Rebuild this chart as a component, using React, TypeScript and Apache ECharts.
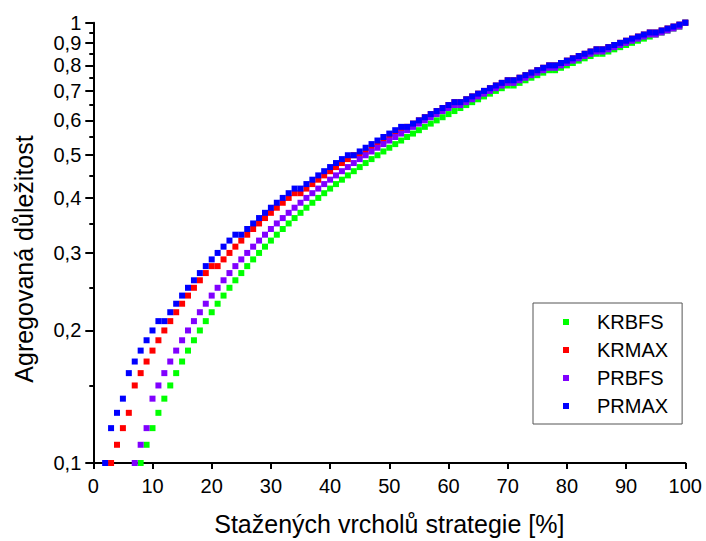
import React, { useEffect, useRef } from "react";
import * as echarts from "echarts";

// Staženo vrcholů [%]
const xPercent = [
  1, 2, 3, 4, 5, 6, 7, 8, 9, 10,
  11, 12, 13, 14, 15, 16, 17, 18, 19, 20,
  21, 22, 23, 24, 25, 26, 27, 28, 29, 30,
  31, 32, 33, 34, 35, 36, 37, 38, 39, 40,
  41, 42, 43, 44, 45, 46, 47, 48, 49, 50,
  51, 52, 53, 54, 55, 56, 57, 58, 59, 60,
  61, 62, 63, 64, 65, 66, 67, 68, 69, 70,
  71, 72, 73, 74, 75, 76, 77, 78, 79, 80,
  81, 82, 83, 84, 85, 86, 87, 88, 89, 90,
  91, 92, 93, 94, 95, 96, 97, 98, 99, 100,
];

const krbfs = [
  null, null, null, null, null, null, null, 0.10, 0.11, 0.12,
  0.13, 0.14, 0.15, 0.16, 0.17, 0.18, 0.19, 0.20, 0.21, 0.22,
  0.23, 0.24, 0.25, 0.26, 0.27, 0.28, 0.29, 0.30, 0.31, 0.32,
  0.33, 0.34, 0.35, 0.36, 0.37, 0.38, 0.39, 0.40, 0.41, 0.42,
  0.43, 0.44, 0.45, 0.46, 0.47, 0.48, 0.49, 0.50, 0.51, 0.52,
  0.53, 0.54, 0.55, 0.56, 0.57, 0.58, 0.59, 0.60, 0.61, 0.62,
  0.63, 0.64, 0.65, 0.66, 0.67, 0.68, 0.69, 0.70, 0.71, 0.72,
  0.72, 0.73, 0.74, 0.75, 0.76, 0.77, 0.78, 0.78, 0.79, 0.80,
  0.81, 0.82, 0.83, 0.84, 0.85, 0.85, 0.86, 0.87, 0.88, 0.89,
  0.90, 0.91, 0.92, 0.93, 0.94, 0.95, 0.96, 0.97, 0.98, 1.00,
];

const krmax = [
  null, null, 0.10, 0.11, 0.12, 0.13, 0.15, 0.16, 0.17, 0.18,
  0.19, 0.20, 0.21, 0.22, 0.23, 0.24, 0.25, 0.26, 0.27, 0.28,
  0.28, 0.29, 0.30, 0.31, 0.32, 0.33, 0.34, 0.35, 0.36, 0.37,
  0.38, 0.39, 0.40, 0.41, 0.41, 0.42, 0.43, 0.44, 0.45, 0.46,
  0.47, 0.48, 0.49, 0.50, 0.50, 0.51, 0.52, 0.53, 0.54, 0.55,
  0.56, 0.57, 0.58, 0.59, 0.60, 0.61, 0.62, 0.63, 0.64, 0.65,
  0.66, 0.66, 0.67, 0.68, 0.69, 0.70, 0.71, 0.72, 0.73, 0.74,
  0.74, 0.75, 0.76, 0.77, 0.78, 0.79, 0.80, 0.80, 0.81, 0.82,
  0.83, 0.84, 0.85, 0.86, 0.87, 0.87, 0.88, 0.89, 0.90, 0.91,
  0.92, 0.93, 0.94, 0.95, 0.95, 0.96, 0.97, 0.98, 0.99, 1.00,
];

const prbfs = [
  null, null, null, null, null, null, 0.10, 0.11, 0.12, 0.14,
  0.15, 0.16, 0.17, 0.18, 0.19, 0.20, 0.21, 0.22, 0.23, 0.24,
  0.25, 0.26, 0.27, 0.28, 0.29, 0.30, 0.31, 0.32, 0.33, 0.34,
  0.35, 0.36, 0.37, 0.38, 0.39, 0.40, 0.41, 0.42, 0.43, 0.44,
  0.45, 0.46, 0.47, 0.48, 0.49, 0.50, 0.51, 0.52, 0.53, 0.54,
  0.55, 0.56, 0.57, 0.58, 0.59, 0.60, 0.61, 0.62, 0.63, 0.64,
  0.65, 0.65, 0.66, 0.67, 0.68, 0.69, 0.70, 0.71, 0.72, 0.73,
  0.73, 0.74, 0.75, 0.76, 0.77, 0.78, 0.79, 0.79, 0.80, 0.81,
  0.82, 0.83, 0.84, 0.85, 0.86, 0.86, 0.87, 0.88, 0.89, 0.90,
  0.91, 0.92, 0.93, 0.94, 0.94, 0.95, 0.96, 0.97, 0.98, 1.00,
];

const prmax = [
  null, 0.10, 0.12, 0.13, 0.14, 0.16, 0.17, 0.18, 0.19, 0.20,
  0.21, 0.21, 0.22, 0.23, 0.24, 0.25, 0.26, 0.27, 0.28, 0.29,
  0.30, 0.31, 0.32, 0.33, 0.33, 0.34, 0.35, 0.36, 0.37, 0.38,
  0.39, 0.40, 0.41, 0.42, 0.42, 0.43, 0.44, 0.45, 0.46, 0.47,
  0.48, 0.49, 0.50, 0.50, 0.51, 0.52, 0.53, 0.54, 0.55, 0.56,
  0.57, 0.58, 0.58, 0.59, 0.60, 0.61, 0.62, 0.63, 0.64, 0.65,
  0.66, 0.66, 0.67, 0.68, 0.69, 0.70, 0.71, 0.72, 0.73, 0.74,
  0.74, 0.75, 0.76, 0.77, 0.78, 0.79, 0.80, 0.80, 0.81, 0.82,
  0.83, 0.84, 0.85, 0.86, 0.87, 0.87, 0.88, 0.89, 0.90, 0.91,
  0.92, 0.93, 0.94, 0.95, 0.95, 0.96, 0.97, 0.98, 0.99, 1.00,
];

const seriesNames = ["KRBFS", "KRMAX", "PRBFS", "PRMAX"];
const seriesValues = [krbfs, krmax, prbfs, prmax];
const seriesColors = ["#00ff00", "#ff0000", "#8000ff", "#0000ff"];

const yMajorTicks = [0.1, 0.2, 0.3, 0.4, 0.5, 0.6, 0.7, 0.8, 0.9, 1];
const yMinorTicks = [0.15, 0.25, 0.35, 0.45, 0.55, 0.65, 0.75, 0.85, 0.95];

const xTitle = "Stažených vrcholů strategie [%]";
const yTitle = "Agregovaná důležitost";

const FONT = '"Liberation Sans", Arial, Helvetica, sans-serif';

const toPoints = (ys: (number | null)[]) =>
  xPercent
    .map((x, i) => (ys[i] == null ? null : [x, Math.log10(ys[i] as number)]))
    .filter((p) => p !== null);

const fmtY = (v: number) => {
  const val = Math.pow(10, v);
  if (Math.abs(val - 1) < 1e-6) return "1";
  return val.toFixed(1).replace(".", ",");
};

export default function App() {
  const ref = useRef<HTMLDivElement>(null);

  useEffect(() => {
    if (!ref.current) return;
    const chart = echarts.init(ref.current, undefined, { renderer: "svg" });
    const lineStyle = { color: "#000", width: 2 };
    const option: any = {
      animation: false,
      backgroundColor: "#ffffff",
      grid: { left: 93.3, right: 20.7, top: 22.7, bottom: 77.7, containLabel: false },
      xAxis: {
        type: "value",
        min: 0,
        max: 100,
        interval: 10,
        name: xTitle,
        nameLocation: "middle",
        nameGap: 48,
        nameTextStyle: { fontFamily: FONT, fontSize: 25, color: "#000" },
        axisLine: { show: true, onZero: false, lineStyle },
        axisTick: { show: true, length: 6, lineStyle },
        axisLabel: { fontFamily: FONT, fontSize: 20, color: "#000", margin: 13 },
        splitLine: { show: false },
      },
      yAxis: [
        {
          type: "value",
          min: -1,
          max: 0,
          position: "left",
          axisLine: { show: true, onZero: false, lineStyle },
          axisTick: {
            show: true,
            length: 8,
            customValues: yMajorTicks.map((v) => Math.log10(v)),
            lineStyle,
          },
          axisLabel: {
            customValues: yMajorTicks.map((v) => Math.log10(v)),
            formatter: fmtY,
            fontFamily: FONT,
            fontSize: 20,
            lineHeight: 16,
            color: "#000",
            margin: 12,
            showMinLabel: true,
            showMaxLabel: true,
            hideOverlap: false,
          },
          splitLine: { show: false },
        },
        {
          type: "value",
          min: -1,
          max: 0,
          position: "left",
          offset: 0,
          axisLine: { show: false, onZero: false },
          axisTick: {
            show: true,
            length: 4,
            customValues: yMinorTicks.map((v) => Math.log10(v)),
            lineStyle,
          },
          axisLabel: { show: false },
          splitLine: { show: false },
        },
      ],
      legend: {
        orient: "vertical",
        left: 533,
        top: 303,
        padding: [9, 14, 8, 30],
        itemGap: 8,
        itemWidth: 29,
        itemHeight: 6,
        icon: "path://M0,0H6V6H0Z M29,3L29,3",
        borderColor: "#555",
        borderWidth: 1,
        backgroundColor: "#fff",
        selectedMode: false,
        textStyle: { fontFamily: FONT, fontSize: 20, color: "#000", lineHeight: 18 },
        data: seriesNames,
      },
      graphic: [
        {
          type: "text",
          x: 24,
          y: 259,
          rotation: Math.PI / 2,
          style: {
            text: yTitle,
            font: `25px ${FONT}`,
            fill: "#000",
            align: "center",
            verticalAlign: "middle",
          },
        },
      ],
      series: seriesNames.map((name, i) => ({
        name,
        type: "scatter",
        symbol: "rect",
        symbolSize: 6,
        itemStyle: { color: seriesColors[i], opacity: 1 },
        data: toPoints(seriesValues[i]),
        z: 2 + i,
      })),
    };
    chart.setOption(option);
    return () => chart.dispose();
  }, []);

  return (
    <div
      ref={ref}
      style={{ position: "fixed", left: 0, top: 0, width: 706, height: 541, background: "#fff" }}
    />
  );
}
